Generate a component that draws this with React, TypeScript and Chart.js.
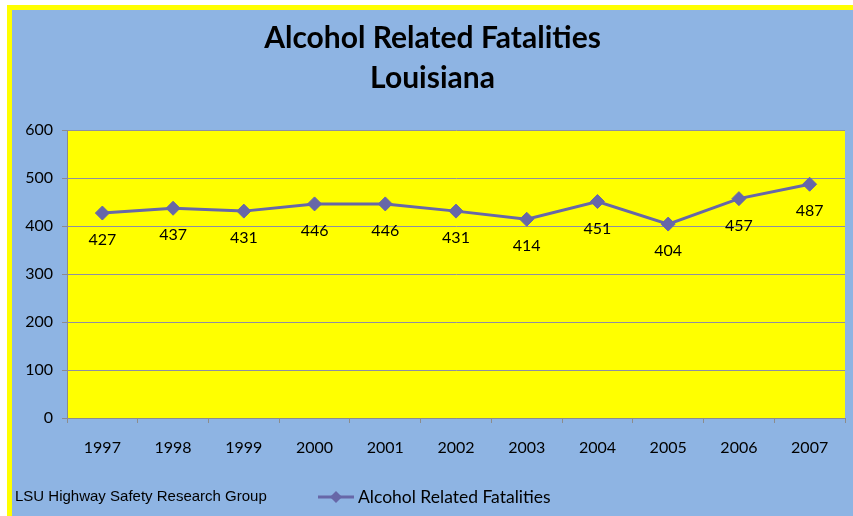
import React, { useEffect, useRef } from "react";
import { Chart, registerables } from "chart.js";

Chart.register(...registerables);

const categories = ["1997", "1998", "1999", "2000", "2001", "2002", "2003", "2004", "2005", "2006", "2007"];
const fatalities = [427, 437, 431, 446, 446, 431, 414, 451, 404, 457, 487];
const titleLines = ["Alcohol Related Fatalities", "Louisiana"];
const seriesName = "Alcohol Related Fatalities";
const footerText = "LSU Highway Safety Research Group";
const yMin = 0;
const yMax = 600;
const yStep = 100;

const LINE_COLOR = "#6767a8";
const FONT = "Lato, 'Open Sans', sans-serif";

export default function App() {
  const ref = useRef<HTMLCanvasElement | null>(null);

  useEffect(() => {
    if (!ref.current) return;
    const decor = {
      id: "decor",
      beforeDraw(chart: any) {
        const { ctx, chartArea } = chart;
        ctx.save();
        ctx.fillStyle = "#ffff00";
        ctx.fillRect(chartArea.left, chartArea.top, chartArea.right - chartArea.left, chartArea.bottom - chartArea.top);
        ctx.restore();
      },
      afterDraw(chart: any) {
        const { ctx } = chart;
        const w = chart.width;
        ctx.save();
        // title
        ctx.fillStyle = "#000";
        ctx.textAlign = "center";
        ctx.textBaseline = "middle";
        ctx.font = `bold 30px ${FONT}`;
        ctx.fillText(titleLines[0], w / 2, 28);
        ctx.fillText(titleLines[1], w / 2, 68);
        // data labels
        const meta = chart.getDatasetMeta(0);
        ctx.font = `16px ${FONT}`;
        meta.data.forEach((pt: any, i: number) => {
          ctx.fillText(String(fatalities[i]), pt.x, pt.y + 27);
        });
        // footer
        ctx.textAlign = "left";
        ctx.font = `15px 'Liberation Sans', Arial, sans-serif`;
        ctx.fillText(footerText, 3, 487);
        // legend
        ctx.strokeStyle = LINE_COLOR;
        ctx.lineWidth = 3;
        ctx.beginPath();
        ctx.moveTo(306, 487);
        ctx.lineTo(342, 487);
        ctx.stroke();
        ctx.fillStyle = LINE_COLOR;
        ctx.beginPath();
        ctx.moveTo(324, 481);
        ctx.lineTo(330, 487);
        ctx.lineTo(324, 493);
        ctx.lineTo(318, 487);
        ctx.closePath();
        ctx.fill();
        ctx.fillStyle = "#000";
        ctx.font = `17.5px ${FONT}`;
        ctx.fillText(seriesName, 346, 487);
        ctx.restore();
      },
    };

    const chart = new Chart(ref.current, {
      type: "line",
      data: {
        labels: categories,
        datasets: [
          {
            label: seriesName,
            data: fatalities,
            borderColor: LINE_COLOR,
            backgroundColor: LINE_COLOR,
            borderWidth: 3,
            pointStyle: "rectRot",
            pointRadius: 7,
            pointBorderWidth: 1,
            tension: 0,
          },
        ],
      },
      options: {
        responsive: false,
        animation: false,
        layout: { padding: { top: 120, right: 8, bottom: 0, left: 0 } },
        plugins: {
          legend: { display: false },
          title: { display: false },
          tooltip: { enabled: false },
        },
        scales: {
          x: {
            offset: true,
            grid: { offset: true, drawOnChartArea: false, drawTicks: true, tickLength: 5, color: "#8c8c8c" },
            border: { color: "#8c8c8c" },
            ticks: { color: "#000", font: { family: FONT, size: 16 }, padding: 15, maxRotation: 0 },
            afterFit(scale: any) {
              scale.height = 98;
            },
          },
          y: {
            min: yMin,
            max: yMax,
            ticks: { stepSize: yStep, color: "#000", font: { family: FONT, size: 16 }, padding: 9 },
            grid: { color: "#8f8fa0", tickLength: 5, tickColor: "#8c8c8c" },
            border: { color: "#8c8c8c" },
            afterFit(scale: any) {
              scale.width = 55;
            },
          },
        },
      },
      plugins: [decor],
    });
    return () => chart.destroy();
  }, []);

  return (
    <div style={{ position: "absolute", left: 0, top: 0, width: 853, height: 516, background: "#fff", overflow: "hidden" }}>
      <div style={{ position: "absolute", left: 7, top: 5, width: 846, height: 511, background: "#ffff00" }} />
      <div style={{ position: "absolute", left: 12, top: 10, width: 841, height: 506, background: "#8eb4e3" }}>
        <canvas ref={ref} width={841} height={506} style={{ display: "block" }} />
      </div>
    </div>
  );
}
